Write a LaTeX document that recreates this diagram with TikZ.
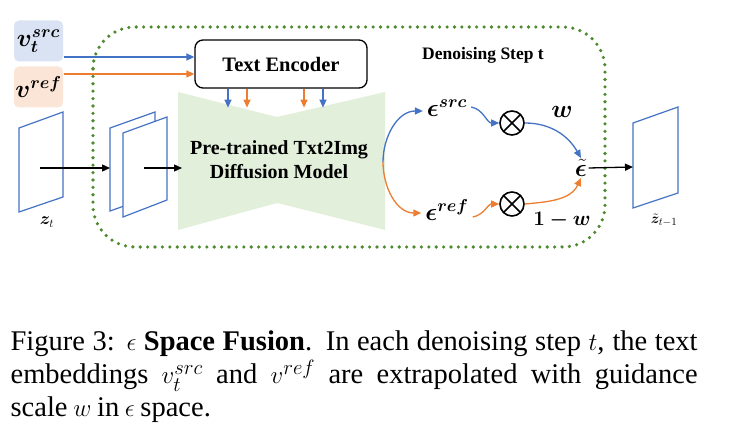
\documentclass[tikz,border=0pt]{standalone}
\usepackage{amsmath, amssymb}
\usepackage{bm}
\usepackage{fontspec}
\setmainfont{Liberation Serif}
\usetikzlibrary{arrows.meta, positioning, calc}
\definecolor{srcc}{HTML}{4472C4}
\definecolor{refc}{HTML}{ED7D31}
\definecolor{stepc}{HTML}{4E8A2E}
\definecolor{srcf}{HTML}{DAE3F3}
\definecolor{reff}{HTML}{FBE5D6}
\definecolor{unetf}{HTML}{E2EFDA}

\begin{document}
\begin{tikzpicture}[x=1pt, y=-1pt, >={Triangle[length=8pt, width=7pt]},
          line width=1.3pt,
          frame/.style={draw=srcc, fill=white, line width=1.2pt},
          emb/.style={rounded corners=5pt, minimum width=49pt,
                      minimum height=41pt, inner sep=0pt,
                      font=\fontsize{25}{25}\selectfont},
          lbl/.style={font=\fontsize{23}{23}\selectfont},
          otimes/.style={circle, draw, line width=1.6pt, minimum size=24pt,
                         inner sep=0pt, path picture={
                           \draw[line width=1.6pt]
                             (path picture bounding box.north west) --
                             (path picture bounding box.south east)
                             (path picture bounding box.north east) --
                             (path picture bounding box.south west);}}]
        \useasboundingbox (0,0) rectangle (742,438);

        % denoising step
        \draw[stepc, line width=3.6pt, dash pattern=on 0pt off 7.4pt,
              line cap=round, rounded corners=42pt] (93,27) rectangle (605,247);
        \node[font=\bfseries\fontsize{17.5}{17.5}\selectfont] (steplbl) at (483,55)
              {Denoising Step t};

        % text embeddings and encoder
        \node[emb, fill=srcf] (vsrc) at (38.5,41) {$\bm{v_t^{src}}$};
        \node[emb, fill=reff] (vref) at (38.5,87) {$\bm{v^{ref}}$};
        \node[draw, rounded corners=8pt, line width=1.3pt, minimum width=172pt,
              minimum height=48pt, font=\bfseries\fontsize{20.5}{20.5}\selectfont]
              (enc) at (281,64) {Text Encoder};
        \coordinate (srcin) at ([yshift=-16pt]vsrc.east);
        \coordinate (refin) at ([yshift=13pt]vref.east);
        \draw[->, srcc] (srcin) -- (srcin -| enc.west);
        \draw[->, refc] (refin) -- (refin -| enc.west);

        % diffusion model
        \fill[unetf] (178,92) -- (277,117) -- (385,92) -- (385,230)
              -- (277,203) -- (178,230) -- cycle;
        \node[align=center, font=\bfseries\fontsize{20}{24}\selectfont]
              (unet) at (279,160) {Pre-trained Txt2Img\\Diffusion Model};
        \foreach \dx/\c [count=\i] in {-53/srcc, -34/refc, 23/refc, 42/srcc}{
          \coordinate (t\i) at ([xshift=\dx pt, yshift=-19pt]enc.south);
          \draw[->, \c] ([xshift=\dx pt]enc.south) -- (t\i);
        }

        % latents
        \draw[frame] (19,128) -- (63,112) -- (63,197) -- (19,212) -- cycle;
        \node[font=\fontsize{18}{18}\selectfont] (ztlbl) at (47,222) {$\bm{z}_t$};
        \draw[frame] (110,128) -- (155,112) -- (155,195) -- (110,211) -- cycle;
        \draw[frame] (123,133) -- (167,117) -- (167,200) -- (123,217) -- cycle;
        \coordinate (ztc) at (40,168);
        \coordinate (f1in) at (110,168);
        \coordinate (f2c) at (144,168);
        \coordinate (unetin) at (182,168);
        \draw[->] (ztc) -- (f1in);
        \draw[->] (f2c) -- (unetin);

        % guidance fusion
        \coordinate (split) at (383,162);
        \node[lbl] (esrc) at (447,108) {$\bm{\epsilon^{src}}$};
        \node[lbl] (eref) at (447,210) {$\bm{\epsilon^{ref}}$};
        \node[otimes] (ot1) at (512,123) {};
        \node[otimes] (ot2) at (512,204) {};
        \node[font=\fontsize{30}{30}\selectfont, inner sep=1pt] (etil) at (581,168)
              {$\tilde{\bm{\epsilon}}$};
        \node[lbl] (wlbl) at (562,112) {$\bm{w}$};
        \node[font=\fontsize{21}{21}\selectfont] (omw) at (562,220) {$\bm{1-w}$};
        \draw[->, srcc] (split) to[out=90, in=180] ([yshift=-3pt]esrc.west);
        \draw[->, refc] (split) to[out=-90, in=180] ([yshift=-3pt]eref.west);
        \draw[->, srcc] ([yshift=1pt]esrc.east) to[out=-10, in=180] (ot1.west);
        \draw[->, refc] ([yshift=-7pt]eref.east) to[out=10, in=180] (ot2.west);
        \draw[->, srcc] (ot1.east) to[out=0, in=120] (etil.north);
        \draw[->, refc] (ot2.east) to[out=5, in=-115] (etil.south);

        % next latent
        \draw[frame] (633,123) -- (678,107) -- (678,193) -- (633,208) -- cycle;
        \coordinate (fnin) at (633,167);
        \draw[->] (etil.east) -- (fnin);
        \node[font=\fontsize{15}{15}\selectfont] (zplbl) at (664,220)
              {$\tilde{\bm{z}}_{t-1}$};

        % caption
        \node[anchor=north west, text width=687pt, align=justify, inner sep=0pt,
              font=\fontsize{28.5}{33}\selectfont] (cap) at (10,330)
              {\spaceskip=0.2em plus 1em\relax
               Figure 3: $\epsilon$ \textbf{Space Fusion}. In each denoising step
               $t$, the text\linebreak embeddings $v_t^{src}$ and $v^{ref}$ are
               extrapolated with guidance\linebreak scale $w$ in $\epsilon$ space.};
      \end{tikzpicture}
\end{document}
